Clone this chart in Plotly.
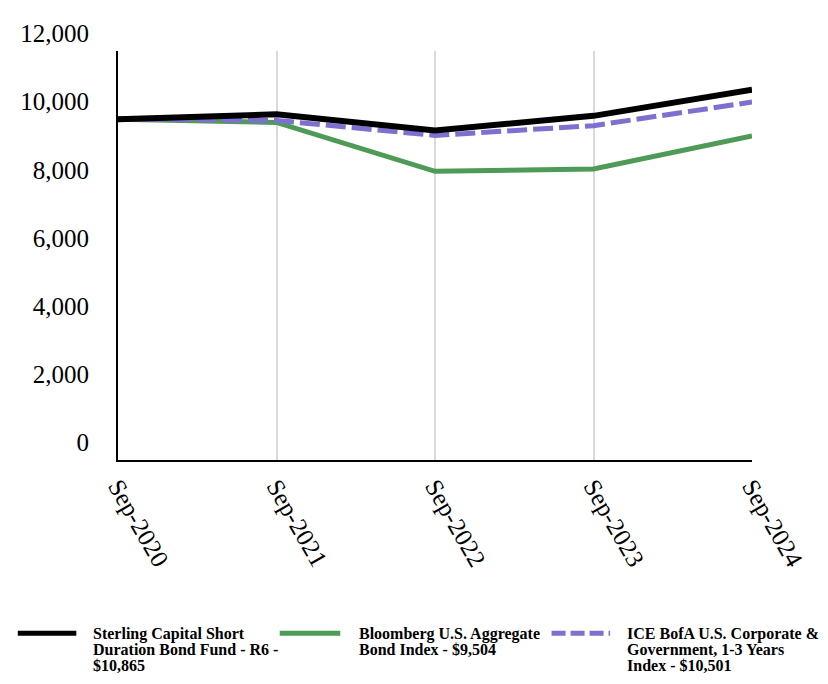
import plotly.graph_objects as go

dates = ["Sep-2020", "Sep-2021", "Sep-2022", "Sep-2023", "Sep-2024"]
fund = [10000, 10143, 9667, 10097, 10865]
agg = [10000, 9905, 8469, 8536, 9504]
ice = [10000, 9962, 9523, 9810, 10501]
y_ticks = [0, 2000, 4000, 6000, 8000, 10000, 12000]

names = [
    ["Sterling Capital Short", "Duration Bond Fund - R6 -", "$10,865"],
    ["Bloomberg U.S. Aggregate", "Bond Index - $9,504"],
    ["ICE BofA U.S. Corporate &", "Government, 1-3 Years", "Index - $10,501"],
]

OFF = 8  # page body margin; keep the figure inside the 828x684 window
W, H = 828 - 2 * OFF, 684 - 2 * OFF
L, T = 116 - OFF, 42 - OFF
R = W - (755 - OFF)
B = H - (460 - OFF)
PW, PH = W - L - R, H - T - B

BLACK = "#000000"
GREEN = "#4e9b57"
PURPLE = "#7d70d0"
SERIF = "Liberation Serif, Times New Roman, serif"

fig = go.Figure()
fig.add_trace(go.Scatter(x=dates, y=agg, mode="lines", line=dict(color=GREEN, width=5),
                         name=" ".join(names[1]), showlegend=False))
fig.add_trace(go.Scatter(x=dates, y=ice, mode="lines", line=dict(color=PURPLE, width=5, dash="20px,6px"),
                         name=" ".join(names[2]), showlegend=False))
fig.add_trace(go.Scatter(x=dates, y=fund, mode="lines", line=dict(color=BLACK, width=6),
                         name=" ".join(names[0]), showlegend=False))


def px_x(p):
    return (p - OFF - L) / PW


def px_y(p):
    return (H - B - (p - OFF)) / PH


shapes = []
annotations = []
legend_items = [(15, 74, 89, BLACK, "solid"), (279, 340, 357, GREEN, "solid"), (553, 612, 627, PURPLE, "dash")]
for (x0, x1, tx, col, dsh), lines in zip(legend_items, names):
    shapes.append(dict(type="line", xref="paper", yref="paper",
                       x0=px_x(x0), x1=px_x(x1), y0=px_y(637), y1=px_y(637),
                       line=dict(color=col, width=5, dash="14px,5px" if dsh == "dash" else "solid")))
    for i, t in enumerate(lines):
        annotations.append(dict(xref="paper", yref="paper", x=px_x(tx), y=px_y(638 + 16 * i),
                                xanchor="left", yanchor="middle", showarrow=False, text="<b>%s</b>" % t,
                                font=dict(family=SERIF, size=16, color="#000")))

fig.update_layout(
    width=W, height=H,
    margin=dict(l=L, r=R, t=T, b=B),
    paper_bgcolor="white", plot_bgcolor="white",
    shapes=shapes, annotations=annotations,
    showlegend=False,
)
fig.update_xaxes(type="category", range=[0, 4], showgrid=True, gridcolor="#d9d9d9", gridwidth=2,
                 showline=True, linecolor="black", linewidth=2, ticks="", tickangle=60,
                 tickfont=dict(family=SERIF, size=25, color="#000"))
fig.update_yaxes(range=[0, 12000], tickvals=y_ticks, tickformat=",", showgrid=False, zeroline=False,
                 showline=True, linecolor="black", linewidth=2, ticks="",
                 ticklabelposition="outside top", ticklabelstandoff=22,
                 tickfont=dict(family=SERIF, size=25, color="#000"))

fig.write_html("out.html")
